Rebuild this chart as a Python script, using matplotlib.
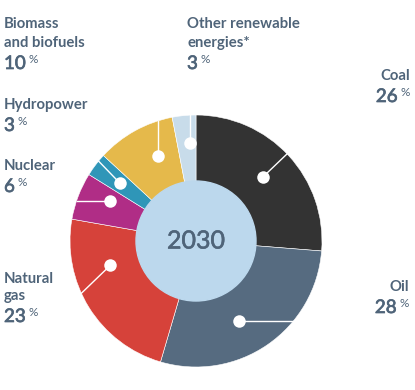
import matplotlib.pyplot as plt
import matplotlib.patheffects as pe
import numpy as np

# data
sources = ['Coal', 'Oil', 'Natural gas', 'Nuclear', 'Hydropower',
           'Biomass and biofuels', 'Other renewable energies*']
label_lines = [['Coal'], ['Oil'], ['Natural', 'gas'], ['Nuclear'], ['Hydropower'],
               ['Biomass', 'and biofuels'], ['Other renewable', 'energies*']]
shares = [26, 28, 23, 6, 3, 10, 3]
colors = ['#333333', '#566b80', '#d6423a', '#b02d86', '#2f96b8', '#e5b94b', '#c8dcea']
year = '2030'

txt_col = '#4f6479'
plt.rcParams['font.family'] = ['Lato', 'DejaVu Sans']

W, H = 415, 390
fig = plt.figure(figsize=(W / 100, H / 100), dpi=100)
ax = fig.add_axes([0, 0, 1, 1])

def Y(y):
    return H - y

def thick(lw):
    return [pe.withStroke(linewidth=lw, foreground=txt_col)]

cx, cy = 196, Y(241)
r_out, r_in = 126, 60

wedges, _ = ax.pie(shares, colors=colors, startangle=90, counterclock=False,
                   center=(cx, cy), radius=r_out, frame=True,
                   wedgeprops=dict(edgecolor='white', linewidth=0.4))
ax.set_xlim(0, W)
ax.set_ylim(0, H)
ax.set_aspect('equal')
ax.axis('off')
ax.add_patch(plt.Circle((cx, cy), r_in, color='#bcd8ed', zorder=5))
ax.text(cx, cy, year, ha='center', va='center', fontsize=18,
        color=txt_col, zorder=6, path_effects=thick(0.4))

# leader lines: dot angle shift (deg), dot radius, line direction (None = radial)
dot_shift = [1, -6, -16, -4, 0, -5, -2]
dot_r = [93, 91, 89, 95, 96, 93, 98]
lead_dir = [None, 0, 224, 180, 134, 90, 90]
for w, s, rd, d in zip(wedges, dot_shift, dot_r, lead_dir):
    mid = np.radians((w.theta1 + w.theta2) / 2 + s)
    px, py = cx + rd * np.cos(mid), cy + rd * np.sin(mid)
    a = mid if d is None else np.radians(d)
    ux, uy = np.cos(a), np.sin(a)
    bx, by = px - cx, py - cy
    b = bx * ux + by * uy
    t = -b + np.sqrt(b * b - (bx * bx + by * by - r_out ** 2))
    ax.plot([px, px + t * ux], [py, py + t * uy], color='white', lw=1, zorder=7)
    ax.plot(px, py, 'o', ms=9, color='white', mec='none', zorder=8)

renderer = fig.canvas.get_renderer()

# label layout: x, first baseline, ha
label_pos = [(410, 80, 'right'), (409, 291, 'right'), (4, 283, 'left'),
             (4, 170, 'left'), (4, 109, 'left'), (4, 28, 'left'), (187, 28, 'left')]
for lines, val, (x, y0, ha) in zip(label_lines, shares, label_pos):
    y = y0
    for i, ln in enumerate(lines):
        if i:
            y += 17 if ln == 'gas' else 19
        ax.text(x, Y(y), ln, ha=ha, va='baseline', fontsize=10.7,
                fontweight='bold', color=txt_col)
    yb = Y(y + 22)
    if ha == 'left':
        t = ax.text(x, yb, str(val), ha='left', va='baseline', fontsize=13.5,
                    color=txt_col, path_effects=thick(0.5))
        pw = t.get_window_extent(renderer).width
        ax.text(x + pw + 3, yb + 6, '%', ha='left', va='baseline', fontsize=8.5,
                color=txt_col)
    else:
        p = ax.text(x, yb + 6, '%', ha='right', va='baseline', fontsize=8.5,
                    color=txt_col)
        pw = p.get_window_extent(renderer).width
        ax.text(x - pw - 3, yb, str(val), ha='right', va='baseline', fontsize=13.5,
                color=txt_col, path_effects=thick(0.5))

fig.savefig('out.png', dpi=100)
